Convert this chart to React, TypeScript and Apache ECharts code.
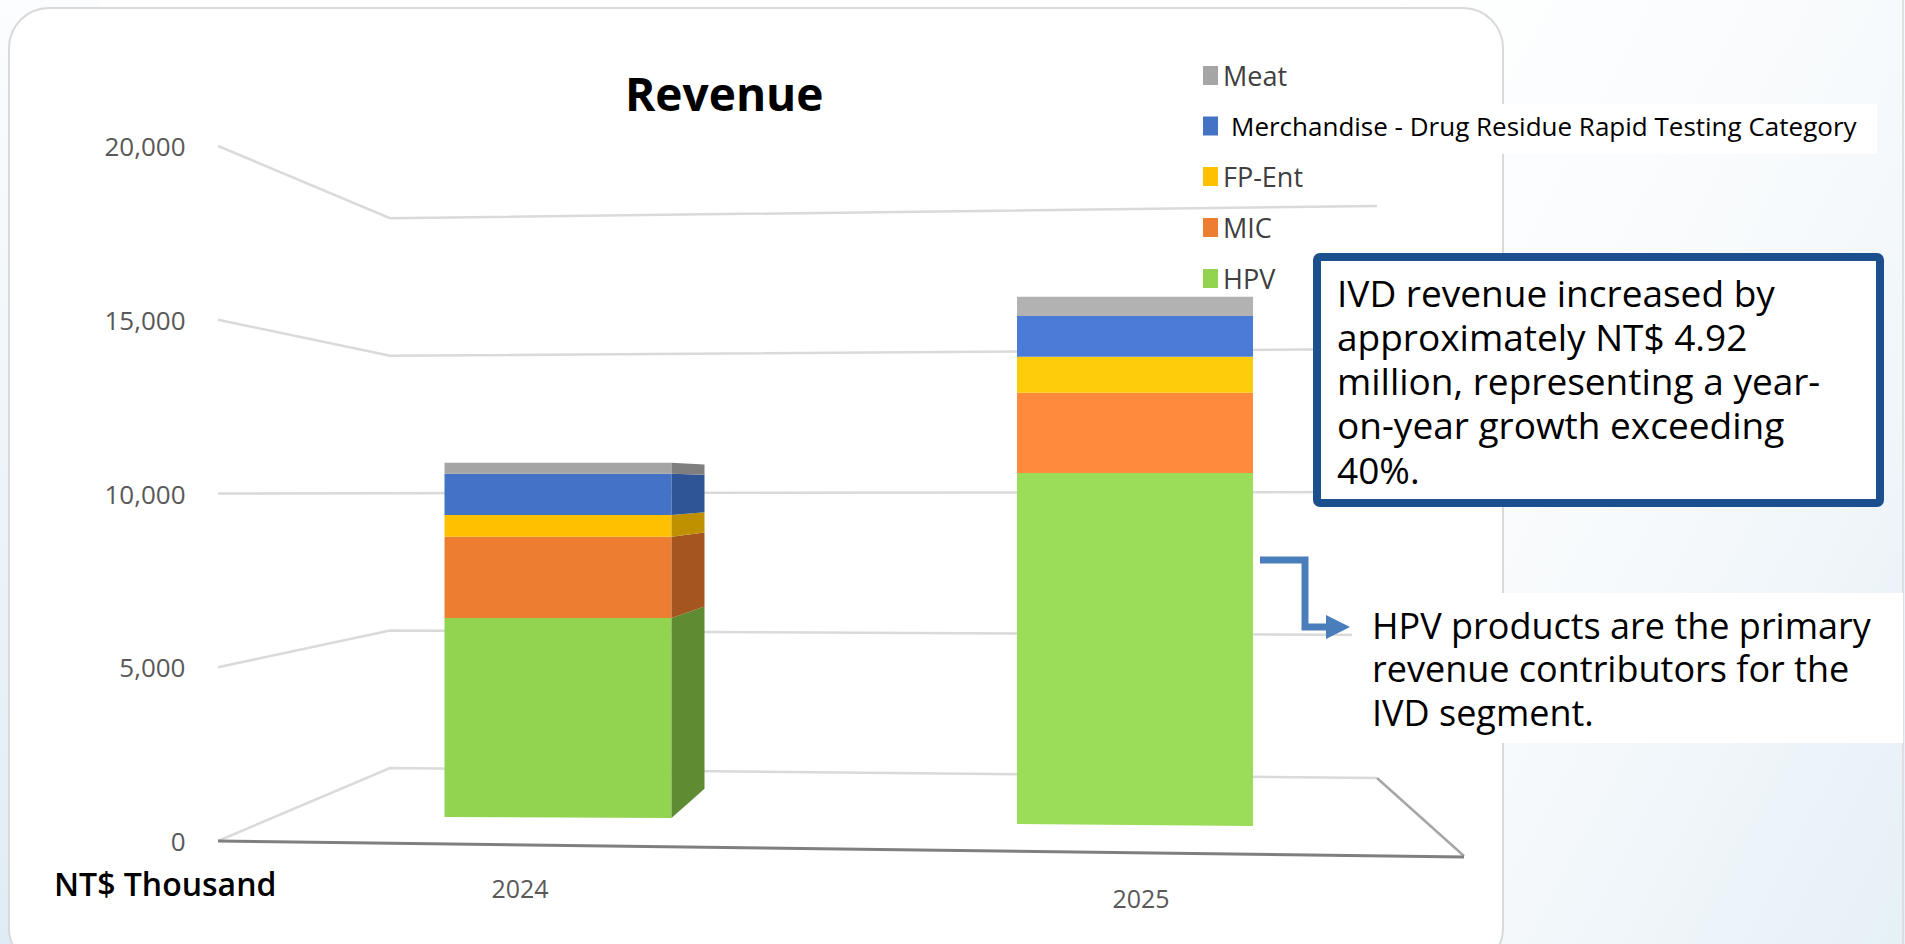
import React, { useEffect, useRef } from "react";
import * as echarts from "echarts";

const years = ["2024", "2025"];
const yTicks = [0, 5000, 10000, 15000, 20000];
const seriesNames = ["HPV", "MIC", "FP-Ent", "Merchandise - Drug Residue Rapid Testing Category", "Meat"];
const hpv = [6070, 10470];
const mic = [2470, 2390];
const fpEnt = [670, 1070];
const merchandise = [1250, 1220];
const meat = [340, 570];
const seriesValues = [hpv, mic, fpEnt, merchandise, meat];
const legendOrder = ["Meat", "Merchandise - Drug Residue Rapid Testing Category", "FP-Ent", "MIC", "HPV"];

const colors2024 = ["#92D350", "#ED7D31", "#FFC000", "#4472C4", "#A5A5A5"];
const colors2025 = ["#9BDC58", "#FF8A3C", "#FFCC0C", "#4A7BD6", "#B2B2B2"];
const sideColors = ["#5F8B33", "#A5561F", "#BF9000", "#2F5597", "#7F7F7F"];

const FONT = "'Open Sans', sans-serif";
const ivdLines = ["IVD revenue increased by", "approximately NT$ 4.92", "million, representing a year-", "on-year growth exceeding", "40%."];
const hpvLines = ["HPV products are the primary", "revenue contributors for the", "IVD segment."];

// Perspective of the pictured 3D chart, per year
const view = [
  { dx: 38, half: 113.5, floor: 817, sag: 1, scale: 0.944, side: 33, vanish: 485 },
  { dx: -6, half: 118, floor: 824, sag: 2, scale: 0.965, side: 0, vanish: 0 },
];
const wall = { frontX: 218, backX: 390, rightX: 1377, floorFrontX: 1464, front0: 841, back0: 768, right0: 778, backK: 0.791, rightK: 0.823 };

function barItem(seriesIndex: number) {
  return (_: any, api: any) => {
    const i = api.value(0);
    const base = api.value(1);
    const top = api.value(2);
    const p = view[i];
    const zero = api.coord([i, 0]);
    const cx = zero[0] + p.dx;
    const y = (v: number) => p.floor - (zero[1] - api.coord([i, v])[1]) * p.scale;
    const yb = y(base);
    const yt = y(top);
    const l = cx - p.half;
    const r = cx + p.half;
    const drop = base === 0 ? p.sag : 0;
    const fill = (i === 0 ? colors2024 : colors2025)[seriesIndex];
    const children: any[] = [
      { type: "polygon", shape: { points: [[l, yt], [r, yt], [r, yb + drop], [l, yb]] }, style: { fill } },
    ];
    if (p.side > 0) {
      const sy = (v: number) => p.vanish + (v - p.vanish) * 0.915;
      children.push({
        type: "polygon",
        shape: { points: [[r, yt], [r + p.side, sy(yt)], [r + p.side, sy(yb)], [r, yb + drop]] },
        style: { fill: sideColors[seriesIndex] },
      });
    }
    return { type: "group", children };
  };
}

function gridItem(_: any, api: any) {
  const v = api.value(1);
  const yf = api.coord([0, v])[1];
  const yBack = wall.back0 + (yf - wall.front0) * wall.backK;
  const yRight = wall.right0 + (yf - wall.front0) * wall.rightK;
  const children: any[] = [
    {
      type: "polyline",
      shape: { points: [[wall.frontX, yf], [wall.backX, yBack], [wall.rightX, yRight]] },
      style: { stroke: "#DADADA", lineWidth: 2.5, fill: "none" },
    },
  ];
  if (v === 0) {
    children.push({
      type: "line",
      shape: { x1: wall.rightX, y1: yRight, x2: wall.floorFrontX, y2: yf + 15 },
      style: { stroke: "#A6A6A6", lineWidth: 2.5 },
    });
    children.push({
      type: "line",
      shape: { x1: wall.frontX, y1: yf, x2: wall.floorFrontX, y2: yf + 16 },
      style: { stroke: "#7F7F7F", lineWidth: 3 },
    });
  }
  return { type: "group", children };
}

function textLines(lines: string[], x: number, y0: number, step: number, fontSize: number) {
  return lines.map((text, k) => ({
    type: "text", z: 5, silent: true, x, y: y0 + k * step,
    style: { text, fontFamily: FONT, fontSize, fill: "#000", verticalAlign: "middle" },
  }));
}

export default function App() {
  const ref = useRef<HTMLDivElement>(null);
  useEffect(() => {
    const chart = echarts.init(ref.current!, undefined, { renderer: "svg" });
    const running = [0, 0];
    const barSeries = seriesNames.map((name, s) => {
      const data = seriesValues[s].map((v, i) => {
        const row = [i, running[i], running[i] + v];
        running[i] += v;
        return row;
      });
      return {
        type: "custom",
        name,
        z: 3,
        silent: true,
        itemStyle: { color: colors2024[s] },
        encode: { x: 0, y: [1, 2] },
        renderItem: barItem(s),
        data,
      };
    });
    chart.setOption({
      animation: false,
      backgroundColor: "transparent",
      title: {
        text: "Revenue",
        left: 620,
        top: 65,
        textStyle: { fontFamily: FONT, fontSize: 46, fontWeight: "bold", color: "#000" },
      },
      legend: {
        orient: "vertical",
        left: 1198,
        top: 57,
        z: 6,
        itemWidth: 15,
        itemHeight: 19,
        itemGap: 24,
        data: legendOrder,
        selectedMode: false,
        icon: "rect",
        textStyle: {
          fontFamily: FONT,
          fontSize: 27,
          color: "#404040",
          rich: { m: { fontFamily: FONT, fontSize: 26, color: "#000", padding: [0, 0, 0, 8] } },
        },
        formatter: (n: string) => (n.startsWith("Merch") ? `{m|${n}}` : n),
      },
      grid: { left: 209.5, top: 146, width: 1242, height: 695 },
      xAxis: {
        type: "category",
        data: years,
        axisLine: { show: false },
        axisTick: { show: false },
        axisLabel: {
          fontFamily: FONT,
          fontSize: 25,
          color: "#595959",
          margin: 34,
          formatter: (v: string) => (v === "2025" ? `{b|${v}}` : `{a|${v}}`),
          rich: {
            a: { fontFamily: FONT, fontSize: 25, color: "#595959" },
            b: { fontFamily: FONT, fontSize: 25, color: "#595959", padding: [10, 0, 0, 0] },
          },
        },
      },
      yAxis: {
        type: "value",
        min: 0,
        max: 20000,
        interval: 5000,
        axisLine: { show: false },
        axisTick: { show: false },
        splitLine: { show: false },
        axisLabel: {
          fontFamily: FONT,
          fontSize: 26,
          color: "#595959",
          margin: 24,
          formatter: (v: number) => v.toLocaleString("en-US"),
        },
      },
      graphic: [
        {
          type: "rect", z: -10, silent: true,
          shape: { x: 1400, y: 0, width: 505, height: 944 },
          style: { fill: new echarts.graphic.LinearGradient(0, 0, 1, 1, [
            { offset: 0, color: "#FFFFFF" }, { offset: 0.5, color: "#F7FAFC" }, { offset: 1, color: "#E6F0F7" },
          ]) },
        },
        {
          type: "rect", z: -10, silent: true,
          shape: { x: 0, y: 0, width: 100, height: 944 },
          style: { fill: new echarts.graphic.LinearGradient(0, 0, 0, 1, [
            { offset: 0, color: "#FBFDFE" }, { offset: 1, color: "#E0ECF5" },
          ]) },
        },
        {
          type: "rect", z: -9, silent: true,
          shape: { x: 9, y: 8, width: 1494, height: 960, r: 40 },
          style: { fill: "#FFFFFF", stroke: "#D9D9D9", lineWidth: 2 },
        },
        { type: "line", z: -9, silent: true, shape: { x1: 1903, y1: 0, x2: 1903, y2: 944 }, style: { stroke: "#D9D9D9", lineWidth: 1.5 } },
        { type: "rect", z: 4, silent: true, shape: { x: 1195, y: 104, width: 682, height: 50 }, style: { fill: "#FFFFFF" } },
        { type: "rect", z: 4, silent: true, shape: { x: 1352, y: 593, width: 551, height: 150 }, style: { fill: "#FFFFFF" } },
        {
          type: "rect", z: 4, silent: true,
          shape: { x: 1317, y: 257, width: 563, height: 246, r: 3 },
          style: { fill: "#FFFFFF", stroke: "#1B4F8E", lineWidth: 8 },
        },
        ...textLines(ivdLines, 1337, 292, 44.3, 37),
        ...textLines(hpvLines, 1372, 625, 43.5, 36),
        {
          type: "polyline", z: 5, silent: true,
          shape: { points: [[1260, 560], [1305, 560], [1305, 627], [1330, 627]] },
          style: { stroke: "#4A7EBB", lineWidth: 7, fill: "none" },
        },
        {
          type: "polygon", z: 5, silent: true,
          shape: { points: [[1326, 615], [1350, 627], [1326, 639]] },
          style: { fill: "#4A7EBB" },
        },
        {
          type: "text", z: 5, silent: true, x: 54, y: 883,
          style: { text: "NT$ Thousand", fontFamily: FONT, fontSize: 32, fontWeight: 600, fill: "#000", verticalAlign: "middle" },
        },
      ],
      series: [
        { type: "custom", name: "gridlines", z: 1, silent: true, encode: { x: 0, y: 1 }, renderItem: gridItem, data: yTicks.map((v) => [0, v]) },
        ...barSeries,
      ],
    });
    return () => chart.dispose();
  }, []);
  return <div ref={ref} style={{ position: "absolute", left: 0, top: 0, width: 1905, height: 944, overflow: "hidden" }} />;
}
